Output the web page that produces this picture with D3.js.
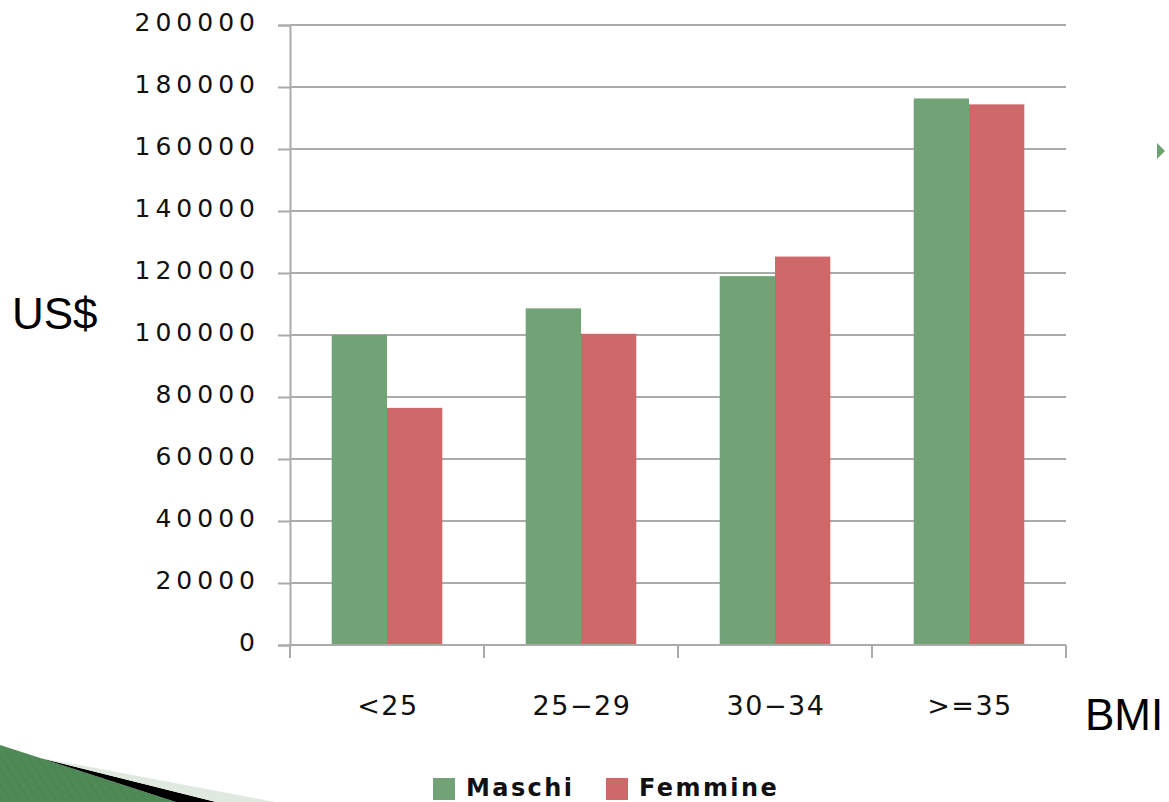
<!DOCTYPE html>
<html>
<head>
<meta charset="utf-8">
<script src="https://cdn.jsdelivr.net/npm/d3@7"></script>
<style>
  html, body { margin: 0; padding: 0; background: #fff; }
  svg { display: block; }
</style>
</head>
<body>
<svg id="chart" width="1169" height="802"></svg>
<script>
// BMI classes and yearly cost per sex (US$)
const categories = ["<25", "25-29", "30-34", ">=35"];
const seriesNames = ["Maschi", "Femmine"];
const maschi = [100000, 108600, 119000, 176300];
const femmine = [76500, 100400, 125300, 174400];
const yTicks = [0, 20000, 40000, 60000, 80000, 100000, 120000, 140000, 160000, 180000, 200000];
const colors = ["#72a377", "#cf6868"];

const svg = d3.select("#chart");
const plotLeft = 290, plotRight = 1066, plotTop = 25, plotBottom = 645;

const x = d3.scaleBand().domain(categories).range([plotLeft, plotRight])
  .paddingInner(0.43).paddingOuter(0.215);
const xs = d3.scaleBand().domain(seriesNames).range([0, x.bandwidth()]);
const y = d3.scaleLinear().domain([0, 200000]).range([plotBottom, plotTop]);

// decorative swoosh in the lower left corner
svg.append("clipPath").attr("id", "decoClip").append("path").attr("d", "M0,745 L176,802 L0,802 Z");
const deco = svg.append("g");
deco.append("path").attr("d", "M0,745 L176,802 L0,802 Z").attr("fill", "#4f8b57");
deco.append("g").attr("clip-path", "url(#decoClip)")
  .selectAll("line").data(d3.range(-60, 200, 9)).join("line")
  .attr("x1", d => d).attr("y1", 802).attr("x2", d => d - 40).attr("y2", 740)
  .attr("stroke", "#3f7a48").attr("stroke-width", 1).attr("opacity", 0.35);
deco.append("path").attr("d", "M40,758 L216,802 L176,802 L0,745 Z").attr("fill", "#000");
deco.append("path").attr("d", "M85,766 L275,802 L216,802 L40,758 Z").attr("fill", "#dfe9df");

// horizontal gridlines
svg.append("g").selectAll("line").data(yTicks).join("line")
  .attr("x1", plotLeft).attr("x2", plotRight)
  .attr("y1", d => y(d)).attr("y2", d => y(d))
  .attr("stroke", "#ababab").attr("stroke-width", 2);

// bars
const groups = svg.append("g").selectAll("g").data(categories).join("g")
  .attr("transform", c => `translate(${x(c)},0)`);
groups.selectAll("rect")
  .data((c, i) => [{ s: seriesNames[0], v: maschi[i] }, { s: seriesNames[1], v: femmine[i] }])
  .join("rect")
  .attr("x", d => xs(d.s)).attr("width", xs.bandwidth())
  .attr("y", d => y(d.v)).attr("height", d => y(0) - y(d.v))
  .attr("fill", (d, i) => colors[i]);

// y axis
const yAxis = svg.append("g").attr("transform", `translate(${plotLeft},0)`)
  .call(d3.axisLeft(y).tickValues(yTicks).tickSize(12).tickPadding(18).tickFormat(d3.format("d")));
yAxis.select(".domain").attr("stroke", "#ababab").attr("stroke-width", 2);
yAxis.selectAll(".tick line").attr("stroke", "#ababab").attr("stroke-width", 2);
yAxis.selectAll(".tick text")
  .attr("font-family", "DejaVu Sans, sans-serif").attr("font-size", 25)
  .attr("letter-spacing", 5).attr("fill", "#111").attr("dy", "0.2em");

// x axis with ticks at category boundaries
const xAxis = svg.append("g");
xAxis.append("line").attr("x1", plotLeft).attr("x2", plotRight).attr("y1", plotBottom).attr("y2", plotBottom)
  .attr("stroke", "#ababab").attr("stroke-width", 2);
xAxis.selectAll("line.tk").data(d3.range(categories.length + 1)).join("line").attr("class", "tk")
  .attr("x1", i => plotLeft + i * x.step()).attr("x2", i => plotLeft + i * x.step())
  .attr("y1", plotBottom).attr("y2", plotBottom + 13)
  .attr("stroke", "#ababab").attr("stroke-width", 2);
xAxis.selectAll("text").data(categories).join("text")
  .attr("x", c => x(c) + x.bandwidth() / 2 + 1).attr("y", 715)
  .attr("text-anchor", "middle")
  .attr("font-family", "DejaVu Sans, sans-serif").attr("font-size", 27)
  .attr("letter-spacing", 1.5).attr("fill", "#111")
  .text(c => c.replace("-", "\u2212"));

// axis titles
svg.append("text").attr("x", 12).attr("y", 329)
  .attr("font-family", "Liberation Sans, Arial, sans-serif").attr("font-size", 44)
  .attr("fill", "#000").text("US$");
svg.append("text").attr("x", 1085).attr("y", 730)
  .attr("font-family", "Liberation Sans, Arial, sans-serif").attr("font-size", 44)
  .attr("fill", "#000").text("BMI");

// bullet marker
svg.append("path").attr("d", "M1157,143 L1165,151 L1157,159 Z").attr("fill", "#6aa36e");

// legend
const legend = svg.append("g");
const legendX = [433, 606];
seriesNames.forEach((s, i) => {
  legend.append("rect").attr("x", legendX[i]).attr("y", 778).attr("width", 22).attr("height", 22)
    .attr("fill", colors[i]);
  legend.append("text").attr("x", legendX[i] + 33).attr("y", 796)
    .attr("font-family", "DejaVu Sans, sans-serif").attr("font-size", 24).attr("font-weight", "bold")
    .attr("letter-spacing", 2.4).attr("fill", "#111").text(s);
});
</script>
</body>
</html>
